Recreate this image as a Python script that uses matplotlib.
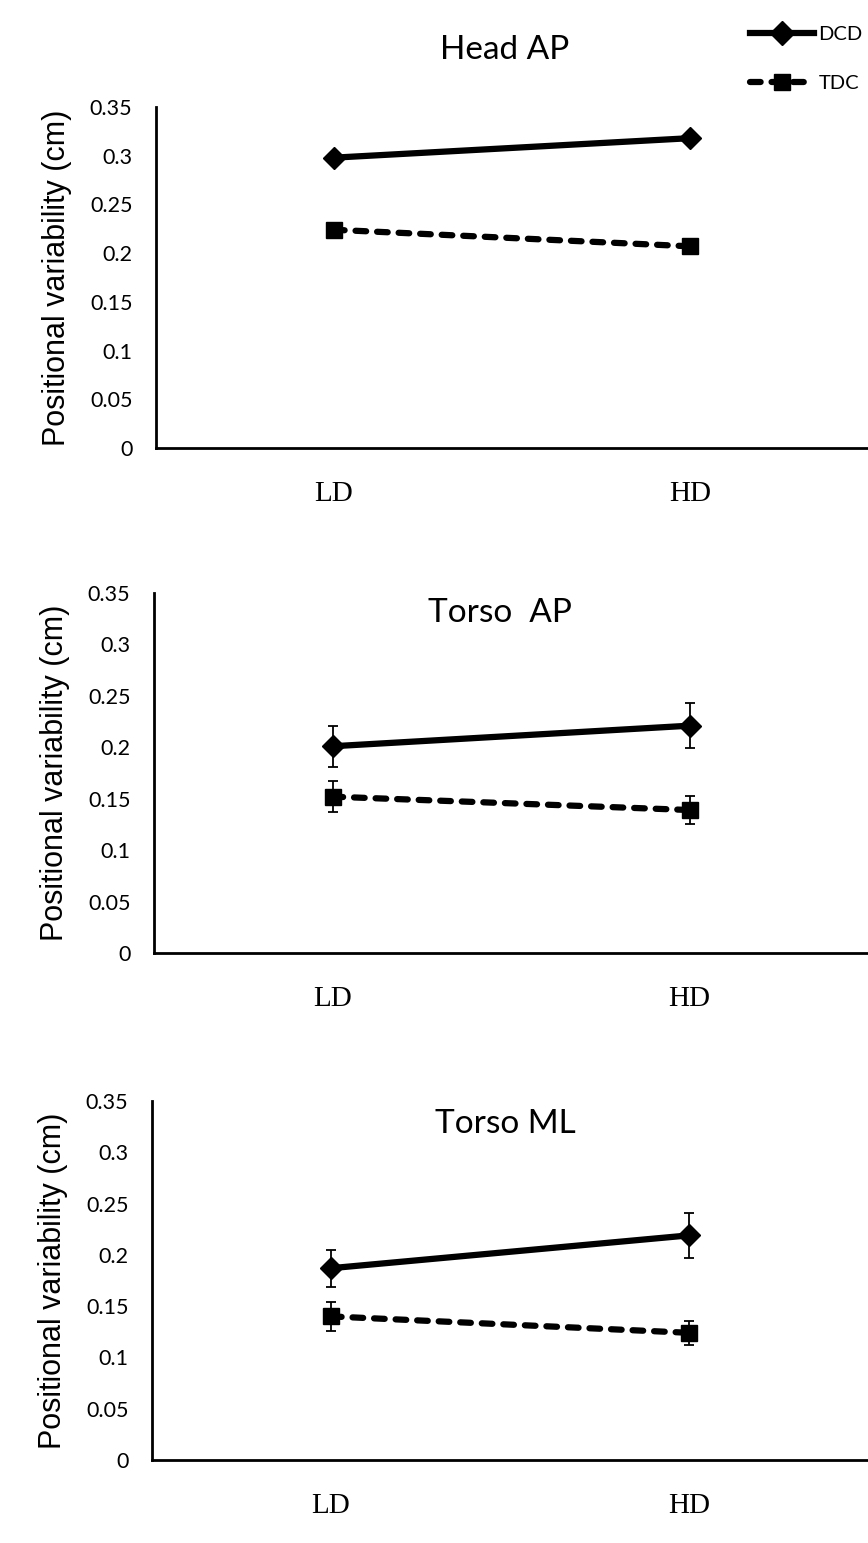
import numpy as np
import matplotlib.pyplot as plt
from matplotlib.lines import Line2D

# === Data ===
conditions = ['LD', 'HD']
panel_titles = ['Head AP', 'Torso  AP', 'Torso ML']

dcd_mean = [[0.298, 0.318], [0.201, 0.221], [0.187, 0.219]]
tdc_mean = [[0.224, 0.207], [0.152, 0.139], [0.140, 0.124]]
dcd_err = [None, [0.020, 0.022], [0.018, 0.022]]
tdc_err = [None, [0.015, 0.014], [0.014, 0.012]]

yticks = [0, 0.05, 0.1, 0.15, 0.2, 0.25, 0.3, 0.35]
ytick_labels = ['0', '0.05', '0.1', '0.15', '0.2', '0.25', '0.3', '0.35']

# === Layout (pixels) ===
W, H = 868, 1543
fig = plt.figure(figsize=(W / 100, H / 100), dpi=100)
fig.patch.set_facecolor('white')

sans = 'Lato'
arial = 'Liberation Sans'
serif = 'Liberation Serif'

# (left, top, bottom) of each axes in pixels
boxes = [(156, 107, 448), (154, 593, 953), (152, 1101, 1460)]
title_xy = [(505, 50), (500, 613), (505, 1124)]


def px_box(left, top, bottom, right=W):
    return [left / W, 1 - bottom / H, (right - left) / W, (bottom - top) / H]


x = np.arange(len(conditions))
for i, (left, top, bottom) in enumerate(boxes):
    ax = fig.add_axes(px_box(left, top, bottom))
    ax.set_facecolor('none')

    ax.plot(x, dcd_mean[i], color='black', lw=4.5, marker='D', ms=11,
            solid_capstyle='round', zorder=3)
    ax.plot(x, tdc_mean[i], color='black', lw=4.5, marker='s', ms=12,
            dashes=(1.7, 1.75), dash_capstyle='round', zorder=3)
    if dcd_err[i] is not None:
        ax.errorbar(x, dcd_mean[i], yerr=dcd_err[i], fmt='none', ecolor='black',
                    elinewidth=1.3, capsize=3.5, capthick=1.3, zorder=2)
        ax.errorbar(x, tdc_mean[i], yerr=tdc_err[i], fmt='none', ecolor='black',
                    elinewidth=1.3, capsize=3.5, capthick=1.3, zorder=2)

    ax.set_xlim(-0.5, 1.5)
    ax.set_ylim(0, 0.35)
    ax.set_yticks(yticks)
    ax.set_yticklabels(ytick_labels, fontfamily=sans, fontsize=15.5)
    ax.set_xticks(x)
    ax.set_xticklabels(conditions, fontfamily=serif, fontsize=21)
    ax.tick_params(axis='y', length=0, pad=17)
    ax.tick_params(axis='x', length=0, pad=24)

    for side in ['top', 'right']:
        ax.spines[side].set_visible(False)
    for side in ['left', 'bottom']:
        ax.spines[side].set_linewidth(2)
        ax.spines[side].set_color('black')

    ax.set_ylabel('Positional variability (cm)', fontfamily=arial, fontsize=22)
    ax.yaxis.set_label_coords(-0.118, 0.5)

    tx, ty = title_xy[i]
    fig.text(tx / W, 1 - ty / H, panel_titles[i], fontfamily=sans, fontsize=24,
             ha='center', va='center')

# Legend at top right
handles = [
    Line2D([0], [0], color='black', lw=4.5, marker='D', ms=12),
    Line2D([0], [0], color='black', lw=4.5, marker='s', ms=12,
           dashes=(1.7, 1.75), dash_capstyle='round'),
]
fig.legend(handles, ['DCD', 'TDC'], loc='upper left',
           bbox_to_anchor=(750 / W, 1 - 26 / H), frameon=False,
           handlelength=3.2, handletextpad=0.2, labelspacing=1.6,
           prop={'family': sans, 'size': 14.5}, borderpad=0, borderaxespad=0)

fig.savefig('out.png', dpi=100)
